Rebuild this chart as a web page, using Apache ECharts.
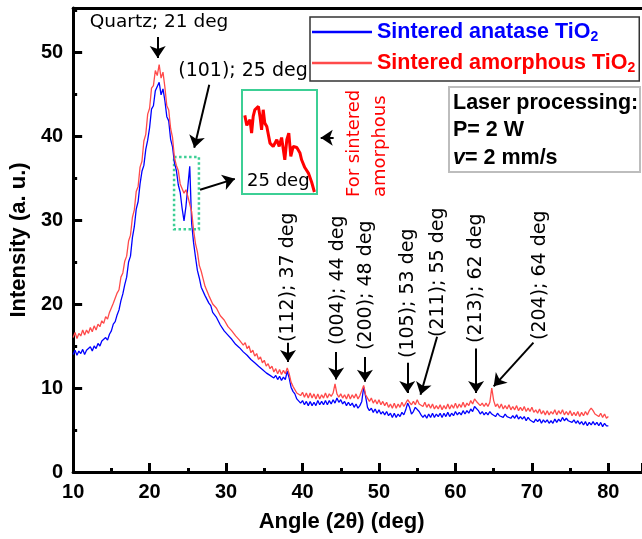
<!DOCTYPE html>
<html>
<head>
<meta charset="utf-8">
<script src="https://cdn.jsdelivr.net/npm/echarts@6/dist/echarts.min.js"></script>
<style>
  html, body { margin: 0; padding: 0; background: #fff; }
  #chart { width: 642px; height: 539px; }
</style>
</head>
<body>
<div id="chart"></div>
<script>
// ---------- data (2theta from 10 to 80 deg, step 0.25) ----------
var angleStart = 10;
var angleStep = 0.25;

var anataseData = [
  14.0, 14.5, 13.9, 14.4,  14.1, 14.6, 14.0, 14.5,  14.3, 14.9, 14.4, 15.0,  14.7, 15.3, 15.0, 15.6,
  15.4, 16.0, 15.7, 16.4,  16.8, 17.6, 17.9, 18.7,  19.3, 20.4, 21.2, 22.3,  23.2, 25.0, 25.7, 27.9,
  29.2, 31.3, 32.2, 34.3,  35.8, 36.5, 38.4, 39.5,  41.0, 43.2, 43.6, 45.4,  45.6, 46.4, 44.9, 45.6,
  44.2, 42.3, 41.8, 39.6,  38.7, 36.8, 35.9, 34.2,  33.3, 31.4, 29.9, 31.6,  31.5, 36.4, 29.6, 27.3,
  25.6, 24.0, 23.1, 22.0,  21.8, 21.0, 20.8, 20.1,  19.8, 19.0, 18.9, 18.4,  18.2, 17.5, 17.4, 16.8,
  16.9, 16.3, 16.4, 15.8,  15.9, 15.2, 15.4, 14.8,  15.0, 14.3, 14.5, 13.9,  14.1, 13.4, 13.6, 13.0,
  13.2, 12.6, 12.8, 12.2,  12.4, 11.8, 12.0, 11.5,  11.7, 11.2, 11.5, 11.0,  11.4, 10.9, 11.3, 11.0,
  12.0, 11.2, 10.1, 9.6,   9.3, 8.7, 8.8, 8.2,      8.5, 8.0, 8.4, 7.9,      8.4, 7.9, 8.3, 7.9,
  8.5, 8.0, 8.4, 8.0,      8.5, 8.0, 8.5, 8.1,      8.6, 8.2, 8.8, 8.3,      8.6, 8.1, 8.4, 7.9,
  8.3, 7.9, 8.2, 7.7,      8.1, 7.6, 7.9, 8.4,      10.1, 9.0, 7.7, 7.3,     7.6, 7.1, 7.5, 7.0,
  7.4, 6.9, 7.2, 6.8,      7.2, 6.7, 7.0, 6.5,      7.0, 6.5, 6.9, 6.6,      7.1, 6.8, 7.4, 8.2,
  7.7, 6.9, 7.2, 7.7,      7.5, 7.2, 6.8, 6.5,      6.8, 6.4, 6.9, 6.5,      7.0, 6.5, 6.9, 6.6,
  7.0, 6.5, 7.0, 6.6,      7.1, 6.6, 7.0, 6.7,      7.2, 6.8, 7.1, 6.8,      7.3, 6.9, 7.3, 7.0,
  7.5, 7.2, 7.8, 7.6,      7.3, 6.9, 7.2, 6.8,      7.1, 6.8, 7.2, 6.9,      7.0, 6.6, 7.0, 6.7,
  6.9, 6.5, 6.9, 6.6,      6.8, 6.4, 6.7, 6.4,      6.8, 6.3, 6.6, 6.3,      6.6, 6.1, 6.5, 6.2,
  6.4, 5.9, 6.3, 6.0,      6.3, 5.8, 6.2, 5.9,      6.2, 5.8, 6.1, 5.8,      6.3, 5.9, 6.3, 6.0,
  6.5, 6.1, 6.4, 6.1,      6.3, 5.9, 6.2, 5.8,      6.1, 5.7, 6.0, 5.6,      6.0, 5.5, 5.9, 5.6,
  6.0, 5.6, 5.9, 5.5,      5.9, 5.4, 5.8, 5.5,      5.5
];

var amorphousData = [
  16.0, 16.6, 15.9, 16.5,  16.2, 16.9, 16.3, 16.9,  16.5, 17.2, 16.7, 17.4,  16.9, 17.6, 17.3, 18.0,
  17.7, 18.5, 18.2, 19.0,  19.0, 20.1, 20.3, 21.3,  21.7, 23.2, 23.7, 25.1,  25.7, 27.5, 28.2, 30.3,
  31.2, 33.4, 34.0, 36.3,  37.0, 39.4, 40.2, 42.6,  43.3, 45.7, 46.0, 47.8,  47.2, 48.5, 46.9, 47.6,
  45.8, 43.6, 43.1, 40.9,  39.8, 37.4, 36.5, 35.9,  34.3, 34.5, 33.2, 33.6,  32.8, 31.9, 31.0, 28.8,
  27.2, 26.2, 24.6, 23.9,  23.0, 22.1, 22.0, 21.0,  20.8, 20.0, 20.2, 19.5,  19.3, 18.6, 18.8, 18.1,
  18.1, 17.3, 17.5, 16.8,  17.0, 16.2, 16.4, 15.7,  15.9, 15.1, 15.4, 14.7,  15.0, 14.2, 14.5, 13.8,
  14.1, 13.4, 13.7, 13.0,  13.3, 12.6, 12.9, 12.3,  12.6, 11.9, 12.3, 11.7,  12.2, 11.6, 12.1, 11.7,
  12.4, 11.7, 10.7, 10.2,  10.0, 9.4, 9.6, 9.1,    9.5, 8.9, 9.4, 8.8,      9.4, 8.8, 9.3, 8.7,
  9.3, 8.7, 9.2, 8.8,      9.4, 8.8, 9.3, 9.0,      9.4, 10.5, 9.3, 8.9,     9.3, 8.8, 9.2, 8.7,
  9.3, 8.7, 9.2, 8.8,      9.3, 8.7, 9.1, 9.0,      10.3, 9.2, 8.8, 8.4,     8.8, 8.2, 8.6, 8.1,
  8.6, 8.0, 8.4, 7.9,      8.3, 7.7, 8.1, 7.6,      8.2, 7.6, 8.1, 7.7,      8.3, 7.8, 8.2, 8.6,
  8.3, 8.0, 8.4, 8.0,      8.6, 8.1, 8.3, 7.8,      8.3, 7.7, 8.1, 7.6,      8.1, 7.5, 7.9, 7.5,
  8.0, 7.4, 7.9, 7.5,      8.1, 7.5, 8.0, 7.6,      8.2, 7.6, 8.1, 7.7,      8.3, 7.7, 8.2, 7.9,
  8.5, 8.1, 8.7, 8.4,      8.3, 7.9, 8.2, 7.8,      8.2, 7.8, 8.3, 10.0,     8.5, 7.8, 8.1, 7.6,
  8.1, 7.5, 7.9, 7.5,      8.0, 7.4, 7.8, 7.4,      7.9, 7.3, 7.7, 7.3,      7.8, 7.2, 7.6, 7.2,
  7.7, 7.1, 7.4, 7.0,      7.5, 6.9, 7.3, 6.8,      7.3, 6.8, 7.2, 6.9,      7.4, 6.8, 7.3, 6.9,
  7.4, 6.8, 7.2, 6.8,      7.3, 6.7, 7.1, 6.7,      7.2, 6.6, 7.1, 6.7,      7.2, 6.8, 7.3, 7.6,
  7.3, 6.9, 7.1, 6.6,      7.0, 6.5, 6.9, 6.4,      6.6
];

// inset: close-up of the amorphous curve around the (101) peak
var insetAngles = [
  24.22, 24.27, 24.35, 24.39, 24.43, 24.47, 24.56, 24.60, 24.64, 24.68,
  24.72, 24.77, 24.85, 24.93, 25.02, 25.08, 25.14, 25.22, 25.27, 25.32,
  25.37, 25.43, 25.52, 25.60, 25.64, 25.72, 25.81, 25.89, 25.96
];
var insetIntensity = [
  34.9, 34.0, 34.5, 33.3, 34.8, 35.4, 35.7, 34.8, 33.6, 35.4,
  34.2, 33.9, 32.4, 32.1, 32.7, 32.1, 32.9, 30.9, 32.7, 33.3,
  31.2, 32.1, 32.0, 31.5, 30.9, 30.2, 29.7, 28.9, 28.0
];

var seriesNames = ['Sintered anatase TiO2', 'Sintered amorphous TiO2'];
var peakLabels = ['(112); 37 deg', '(004); 44 deg', '(200); 48 deg', '(105); 53 deg',
                  '(211); 55 deg', '(213); 62 deg', '(204); 64 deg'];

(function () {
  var blue = '#0000ff';
  var red = '#ff4a4a';
  var green = '#3ccf95';
  var ink = '#000';
  var tickFont = 'Liberation Sans';
  var noteFont = 'DejaVu Sans';

  function pairs(values) {
    return values.map(function (v, i) { return [angleStart + i * angleStep, v]; });
  }
  var insetPairs = insetAngles.map(function (a, i) { return [a, insetIntensity[i]]; });

  // arrows, in data coordinates [from, to]
  var arrows = [
    [[21.06, 51.8], [21.06, 49.3]],
    [[27.8, 46.1], [25.84, 38.6]],
    [[26.6, 33.6], [31.15, 34.9]],
    [[44.07, 39.8], [42.38, 39.8]],
    [[38.1, 15.4], [38.1, 13.1]],
    [[44.4, 14.3], [44.4, 11.0]],
    [[48.16, 13.7], [48.16, 10.75]],
    [[53.7, 13.0], [53.7, 9.4]],
    [[57.6, 16.1], [55.43, 9.2]],
    [[62.7, 14.7], [62.7, 9.4]],
    [[70.2, 15.4], [65.0, 10.2]]
  ];

  // rotated peak labels: bottom anchor in px
  var peakPos = [[288, 342], [338, 345], [366, 350], [408, 358], [438, 337], [476, 343], [540, 340]];

  var graphics = [];
  peakLabels.forEach(function (t, i) {
    graphics.push({
      type: 'text', x: peakPos[i][0], y: peakPos[i][1], rotation: Math.PI / 2,
      style: { text: t, fill: ink, fontFamily: noteFont, fontSize: 19, align: 'left', verticalAlign: 'middle' }
    });
  });
  graphics.push(
    { type: 'text', x: 159, y: 22, style: { text: 'Quartz; 21 deg', fill: ink, fontFamily: noteFont, fontSize: 18.5, align: 'center', verticalAlign: 'middle' } },
    { type: 'text', x: 243, y: 71, style: { text: '(101); 25 deg', fill: ink, fontFamily: noteFont, fontSize: 19, align: 'center', verticalAlign: 'middle' } },
    { type: 'rect', shape: { x: 242, y: 90, width: 75, height: 104 }, style: { fill: 'none', stroke: green, lineWidth: 2 } },
    { type: 'text', x: 247, y: 181, style: { text: '25 deg', fill: ink, fontFamily: noteFont, fontSize: 18, align: 'left', verticalAlign: 'middle' } },
    { type: 'text', x: 354, y: 197, rotation: Math.PI / 2, style: { text: 'For sintered', fill: '#ff0000', fontFamily: noteFont, fontSize: 18, align: 'left', verticalAlign: 'middle' } },
    { type: 'text', x: 380, y: 197, rotation: Math.PI / 2, style: { text: 'amorphous', fill: '#ff0000', fontFamily: noteFont, fontSize: 18, align: 'left', verticalAlign: 'middle' } },
    { type: 'rect', shape: { x: 449, y: 87, width: 191, height: 85 }, style: { fill: '#fff', stroke: '#bdbdbd', lineWidth: 2 } },
    { type: 'text', x: 453, y: 103, style: { text: 'Laser processing:', fill: ink, fontFamily: tickFont, fontWeight: 'bold', fontSize: 21.5, verticalAlign: 'middle' } },
    { type: 'text', x: 453, y: 130, style: { text: 'P= 2 W', fill: ink, fontFamily: tickFont, fontWeight: 'bold', fontSize: 21.5, verticalAlign: 'middle' } },
    { type: 'text', x: 453, y: 158, style: {
      text: '{i|v}{n|= 2 mm/s}', verticalAlign: 'middle',
      rich: {
        i: { fill: ink, fontFamily: tickFont, fontWeight: 'bold', fontStyle: 'italic', fontSize: 21.5 },
        n: { fill: ink, fontFamily: tickFont, fontWeight: 'bold', fontSize: 21.5 }
      }
    } }
  );

  var chart = echarts.init(document.getElementById('chart'), null, { renderer: 'canvas' });
  chart.setOption({
    animation: false,
    backgroundColor: '#fff',
    grid: [
      { left: 72, right: 0, top: 8, bottom: 67 },
      { left: 244, top: 92, width: 72, height: 100 }
    ],
    legend: {
      data: seriesNames,
      orient: 'vertical',
      left: 310, top: 17,
      padding: [4, 4, 6, 2],
      itemGap: 8,
      itemWidth: 60,
      itemHeight: 2.5,
      icon: 'rect',
      backgroundColor: '#fff',
      borderColor: '#333',
      borderWidth: 1.5,
      borderRadius: 0,
      selectedMode: false,
      formatter: function (name) {
        var c = name.indexOf('anatase') >= 0 ? 'b' : 'r';
        return '{' + c + '|' + name.slice(0, -1) + '}{' + c + 's|2}';
      },
      textStyle: {
        rich: {
          b: { color: blue, fontFamily: tickFont, fontWeight: 'bold', fontSize: 21.5, lineHeight: 24 },
          bs: { color: blue, fontFamily: tickFont, fontWeight: 'bold', fontSize: 14, lineHeight: 6, verticalAlign: 'bottom' },
          r: { color: '#ff0000', fontFamily: tickFont, fontWeight: 'bold', fontSize: 21.5, lineHeight: 24 },
          rs: { color: '#ff0000', fontFamily: tickFont, fontWeight: 'bold', fontSize: 14, lineHeight: 6, verticalAlign: 'bottom' }
        }
      }
    },
    xAxis: [
      {
        type: 'value', gridIndex: 0, min: 10, max: 84.4, interval: 10,
        name: 'Angle (2θ) (deg)', nameLocation: 'middle', nameGap: 39,
        nameTextStyle: { color: ink, fontFamily: tickFont, fontWeight: 'bold', fontSize: 22, padding: [0, 32, 0, 0] },
        axisLine: { lineStyle: { color: ink, width: 3 } },
        axisTick: { inside: true, length: 9, lineStyle: { color: ink, width: 3 } },
        minorTick: { show: true, splitNumber: 2, length: 4, lineStyle: { color: ink, width: 3 } },
        axisLabel: { color: ink, fontFamily: tickFont, fontWeight: 'bold', fontSize: 20, margin: 10, showMaxLabel: false },
        splitLine: { show: false }
      },
      {
        type: 'value', gridIndex: 0, position: 'top', min: 10, max: 84.4,
        axisLine: { lineStyle: { color: ink, width: 3 } },
        axisTick: { show: false }, axisLabel: { show: false }, splitLine: { show: false }
      },
      { type: 'value', gridIndex: 1, min: 24.2, max: 26.0, show: false }
    ],
    yAxis: [
      {
        type: 'value', gridIndex: 0, min: 0, max: 55.24, interval: 10,
        name: 'Intensity (a. u.)', nameLocation: 'middle', nameGap: 43,
        nameTextStyle: { color: ink, fontFamily: tickFont, fontWeight: 'bold', fontSize: 22 },
        axisLine: { lineStyle: { color: ink, width: 3 } },
        axisTick: { inside: true, length: 9, lineStyle: { color: ink, width: 3 } },
        minorTick: { show: true, splitNumber: 2, length: 4, lineStyle: { color: ink, width: 3 } },
        axisLabel: { color: ink, fontFamily: tickFont, fontWeight: 'bold', fontSize: 20, margin: 10, showMaxLabel: false },
        splitLine: { show: false }
      },
      { type: 'value', gridIndex: 1, min: 28, max: 37, show: false }
    ],
    series: [
      {
        name: seriesNames[0], type: 'line', xAxisIndex: 0, yAxisIndex: 0,
        data: pairs(anataseData), symbol: 'none', z: 3,
        lineStyle: { color: blue, width: 1.3 }, itemStyle: { color: blue },
        markArea: {
          silent: true,
          itemStyle: { color: 'rgba(0,0,0,0)', borderColor: green, borderWidth: 2.5, borderType: 'dotted' },
          data: [[{ coord: [23.2, 37.5] }, { coord: [26.45, 28.9] }]]
        }
      },
      {
        name: seriesNames[1], type: 'line', xAxisIndex: 0, yAxisIndex: 0,
        data: pairs(amorphousData), symbol: 'none', z: 4,
        lineStyle: { color: red, width: 1.3 }, itemStyle: { color: red },
        markLine: {
          silent: true,
          symbol: ['none', 'arrow'],
          symbolSize: 12,
          label: { show: false },
          lineStyle: { color: ink, width: 2, type: 'solid' },
          data: arrows.map(function (a) { return [{ coord: a[0] }, { coord: a[1] }]; })
        }
      },
      {
        name: 'inset', type: 'line', xAxisIndex: 2, yAxisIndex: 1,
        data: insetPairs, symbol: 'none',
        lineStyle: { color: '#ff0000', width: 3 }
      }
    ],
    graphic: graphics
  });
})();
</script>
</body>
</html>
